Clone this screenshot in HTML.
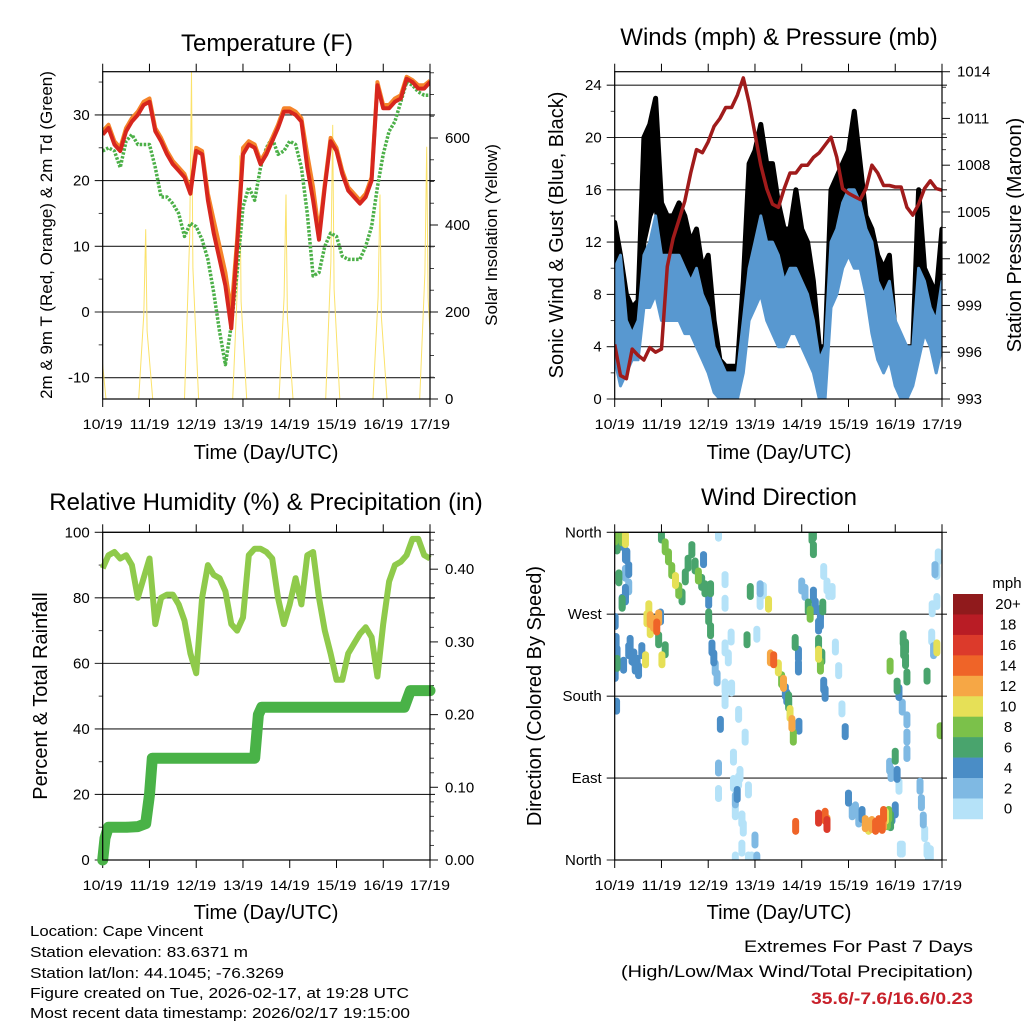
<!DOCTYPE html>
<html><head><meta charset="utf-8"><style>
html,body{margin:0;padding:0;background:#fff;}
svg{display:block;font-family:"Liberation Sans",sans-serif;}
</style></head><body>
<svg id="chart" width="1024" height="1024" viewBox="0 0 1024 1024" xmlns="http://www.w3.org/2000/svg">
<rect x="0" y="0" width="1024" height="1024" fill="#fff"/>
<text x="267" y="51" font-size="24" text-anchor="middle">Temperature (F)</text>
<text x="779" y="45" font-size="24" text-anchor="middle">Winds (mph) &amp; Pressure (mb)</text>
<text x="266" y="510" font-size="24" text-anchor="middle">Relative Humidity (%) &amp; Precipitation (in)</text>
<text x="779" y="505" font-size="24" text-anchor="middle">Wind Direction</text>
<text x="266" y="459" font-size="20" text-anchor="middle">Time (Day/UTC)</text>
<text x="779" y="459" font-size="20" text-anchor="middle">Time (Day/UTC)</text>
<text x="266" y="919" font-size="20" text-anchor="middle">Time (Day/UTC)</text>
<text x="779" y="919" font-size="20" text-anchor="middle">Time (Day/UTC)</text>
<text transform="translate(52,235) rotate(-90)" font-size="17" text-anchor="middle">2m &amp; 9m T (Red, Orange) &amp; 2m Td (Green)</text>
<text transform="translate(497,235) rotate(-90)" font-size="17" text-anchor="middle">Solar Insolation (Yellow)</text>
<text transform="translate(563,235) rotate(-90)" font-size="20" text-anchor="middle">Sonic Wind &amp; Gust (Blue, Black)</text>
<text transform="translate(1021,235) rotate(-90)" font-size="20" text-anchor="middle">Station Pressure (Maroon)</text>
<text transform="translate(47,696) rotate(-90)" font-size="20" text-anchor="middle">Percent &amp; Total Rainfall</text>
<text transform="translate(541,696) rotate(-90)" font-size="20" text-anchor="middle">Direction (Colored By Speed)</text>
<g font-size="15">
<text x="30" y="936" textLength="173" lengthAdjust="spacingAndGlyphs">Location: Cape Vincent</text>
<text x="30" y="957" textLength="218" lengthAdjust="spacingAndGlyphs">Station elevation: 83.6371 m</text>
<text x="30" y="978" textLength="254" lengthAdjust="spacingAndGlyphs">Station lat/lon: 44.1045; -76.3269</text>
<text x="30" y="998" textLength="379" lengthAdjust="spacingAndGlyphs">Figure created on Tue, 2026-02-17, at 19:28 UTC</text>
<text x="30" y="1018" textLength="380" lengthAdjust="spacingAndGlyphs">Most recent data timestamp: 2026/02/17 19:15:00</text>
</g>
<text x="973" y="952" font-size="17" text-anchor="end" textLength="229" lengthAdjust="spacingAndGlyphs">Extremes For Past 7 Days</text>
<text x="973" y="977" font-size="17" text-anchor="end" textLength="352" lengthAdjust="spacingAndGlyphs">(High/Low/Max Wind/Total Precipitation)</text>
<text x="973" y="1004" font-size="17" font-weight="bold" fill="#c8202a" text-anchor="end" textLength="162" lengthAdjust="spacingAndGlyphs">35.6/-7.6/16.6/0.23</text>
</svg>
<script>
// ---------- data ----------
const times=[0,0.125,0.25,0.375,0.5,0.625,0.75,0.875,1,1.125,1.25,1.375,1.5,1.625,1.75,1.875,2,2.125,2.25,2.375,2.5,2.625,2.75,2.875,3,3.125,3.25,3.375,3.5,3.625,3.75,3.875,4,4.125,4.25,4.375,4.5,4.625,4.75,4.875,5,5.125,5.25,5.375,5.5,5.625,5.75,5.875,6,6.125,6.25,6.375,6.5,6.625,6.75,6.875,7];
const dayLabels=["10/19","11/19","12/19","13/19","14/19","15/19","16/19","17/19"];
const tempRed=[27,28,25.5,24.5,27.5,29,30,31.5,32,27.5,26,24,22.5,21.5,20.5,18,24.5,24,17,12,8,4,-2.5,10,24,25.5,25,22.5,24,26,28,30.5,30.5,30,29,22,17,11,19,26,24.5,21,18.5,17.5,16.5,17.5,20,34.5,31,31,32,32.5,35.5,35,34,34,35];
const tempOrange=[27.5,28.5,26,25,28,29.5,30.5,32,32.5,28,26.5,24.5,23,22,21,18.5,25,24.5,18,14,10,6,0,11,25,26,25.5,23,24.5,26.5,28.5,31,31,30.5,29.5,24,19,12,19.5,26.5,25,21.5,19,18,17,18,20.5,35,31.5,31.5,32.5,33,35.8,35.3,34.5,34.5,35.2];
const tempDew=[24.5,25,24.5,22,26,27,25.5,25.5,25.5,22,17.5,17.5,16.5,15,11.5,13.5,13,11,8,3,-3,-8,-2,6,16,19,17,22,25,26.5,24,24.5,26,25.5,22,15,5.5,6,10,12,11.5,8.5,8,8,8,10,13,19,24,27.5,29,32,35,34.5,33.5,33,33];
const solarPeakDay=[-0.08,0.92,1.9,2.93,3.92,4.92,5.93,6.93];
const solarPeakVal=[330,390,752,560,470,630,470,580];
const windLo=[3,1,2,3,3,7,7,8,6,6,6,6,5,5,4,3,2,0.5,0,0,0,0,2,6,7,8,6,5,4,4,5,5,4,3,2,0,0,7,8,10,11,10,10,8,5,3,2,3,1,0,0,1,3,5,4,2,4];
const windHi=[10,11,6,5,6,11,12,14,11,11,11,11,10,9,10,8,7,4,3,2,2,2,6,10,12,14,12,12,11,9,10,10,9,8,6,3,4,12,13,15,16,16,15,13,12,9,8,9,6,5,4,4,10,9,7,6,9];
const gustLo=[8,6,4,4,5,12,14,15,11,10,9,9,9,8,7,5,5,2,1.5,1.5,1.5,1.5,3,10,12,14,12,11,9,8,8,9,9,7,4,2,2,11,12,14,15,15,14,11,8,6,4,5,3,3,3,3,10,6,5,5,7];
const gustHi=[13.5,11,8,7,7.5,20,21,23,15,14,14,15,14,12,13,10,11,6,3,2.5,2.5,2.5,9,18,19,21,18,18,15,13,13,16,13,12,9,4,4,16,17,18,19,22,18,14,13,11,10,11,5,4,4,4,16,10,9,8,13];
const pressure=[996.5,994.5,994.3,996.2,995.8,995.5,996.3,996,996.2,1001.5,1003.3,1004.5,1005.7,1007.5,1009,1008.8,1009.5,1010.5,1011,1011.7,1011.7,1012.5,1013.6,1012,1010,1008,1006.5,1005.5,1005.3,1006.5,1007.5,1007.5,1008,1008,1008.5,1008.8,1009.3,1009.8,1008.5,1006.5,1006.2,1006,1005.8,1006.5,1008,1007.5,1006.7,1006.7,1006.6,1006.6,1005.3,1004.8,1005.5,1006.5,1007,1006.5,1006.4];
const rh=[89,93,94,92,93,90,80,86,92,72,80,81,81,78,73,63,57,80,90,87,86,82,72,70,74,93,95,95,94,92,80,72,78,86,78,93,94,80,70,63,55,55,63,66,69,71,68,56,72,85,90,91,93,98,98,93,92];
const precipDay=[0,0.05,0.12,0.5,0.75,0.92,1.0,1.06,3.25,3.33,3.4,6.45,6.58,7];
const precipVal=[0,0.03,0.045,0.045,0.046,0.05,0.09,0.14,0.14,0.2,0.21,0.21,0.233,0.233];
const dirDay=[0.01,0.08,0.16,0.23,0.05,0.26,0.3,0.3,0.23,0.3,0.37,0.44,0.51,0.58,0.41,0.48,0.33,0.4,0.44,0.66,0.69,0.76,0.83,0.9,0.94,0.76,0.73,1.0,1.08,1.15,1.22,1.3,1.37,1.44,1.51,1.57,1.65,1.72,1.79,1.86,1.93,2.01,2.05,1.9,2.01,2.05,2.08,2.12,2.15,2.19,2.22,2.36,2.36,2.49,2.36,2.43,2.5,2.36,2.65,2.79,2.36,2.54,2.65,2.22,2.26,2.54,2.58,2.62,2.68,2.58,2.72,2.86,2.22,2.72,2.75,2.72,2.58,2.86,2.93,3.0,3.04,3.11,3.18,3.11,3.04,2.83,2.9,3.29,3.33,3.4,3.5,3.57,3.61,3.65,3.68,3.72,3.72,3.75,3.79,3.82,3.86,3.93,3.93,3.94,4.0,4.07,4.14,4.18,4.22,4.25,4.25,4.25,4.29,4.36,4.36,4.4,4.43,4.45,4.4,4.36,4.4,4.47,4.5,4.47,4.54,4.58,4.65,4.72,4.79,4.86,4.93,5.0,5.08,5.15,5.22,5.29,5.36,5.43,5.5,5.58,5.65,5.72,5.75,4.5,4.54,4.54,4.36,3.87,5.75,5.79,5.83,5.86,5.9,5.9,5.93,6.0,6.0,6.04,6.08,6.11,6.15,6.18,6.22,6.25,6.22,6.17,5.89,6.04,6.08,6.15,6.25,6.25,6.25,5.88,5.91,6.53,6.56,6.6,6.63,6.68,6.71,6.75,6.78,6.79,6.82,6.85,6.89,6.89,6.92,6.96,6.89,6.68,0.05,0.05,0.03,0.01,0.16,0.23,0.23,0.23,0.09,0.12,0.09,0.16,0.19,0.01,0.94,0.98,1.01,1.08,0.04];
const dirDeg=[355,357,354,352,345,334,319,300,335,230,223,215,208,230,223,216,238,222,213,220,265,264,260,256,266,253,276,357,344,333,318,307,296,289,311,326,341,323,312,305,298,285,298,330,267,252,233,222,211,200,359,308,282,245,233,222,189,175,160,135,190,113,87,101,149,84,66,72,94,53,45,77,73,45,35,13,0,0,0,22,0,298,296,284,248,242,295,281,222,220,211,198,194,185,179,176,172,161,150,135,239,212,226,147,301,294,278,270,356,341,359,291,279,238,226,213,223,278,271,257,262,192,183,317,301,295,295,234,208,166,141,68,53,55,45,50,40,37,39,37,40,38,50,48,41,39,46,37,41,48,42,50,45,41,48,55,114,94,81,12,12,230,219,201,234,243,213,191,184,168,154,135,117,103,95,81,63,44,29,11,0,7,245,276,230,319,284,317,333,142,233,202,216,227,240,262,283,294,289,315,310,349,360,282,214,205,242,267,220,231,169,204,111,167,81,92,54,36,25,13,257,26,19,7,5,256];
const dirSpeed=[8,7,9,10,6,4,4,3,4,4,5,5,4,4,5,4,5,4,5,10,10,12,12,14,12,11,10,7,8,9,8,10,9,7,7,6,6,7,8,6,6,5,6,4,6,6,4,4,3,3,0,1,1,1,1,1,1,1,1,1,1,1,1,2,4,1,2,4,1,1,1,1,1,1,1,1,1,1,1,3,2,2,1,1,1,6,7,10,12,15,10,8,12,4,4,6,7,10,12,8,7,5,4,4,2,2,6,8,7,7,6,4,4,7,10,9,6,6,4,4,4,4,4,1,1,1,1,1,1,1,4,4,2,2,2,4,12,10,12,14,14,14,14,14,12,17,16,14,12,10,8,8,7,6,5,4,6,4,1,1,1,6,6,6,7,7,8,6,4,3,2,2,2,2,2,2,2,2,1,1,1,1,1,1,2,2,1,0,1,8,10,6,6,4,4,4,4,4,4,3,6,4,6,6,4,4,6,4,10,6,4,4,4,1,6,8,6,4,12,10,6,6,2];
const speedBins=["0","2","4","6","8","10","12","14","16","18","20+"];
const speedColors=["#b5e2f8","#7fb9e3","#4a8dc6","#49a46d","#7bc14a","#e6e057","#f6a745","#ef6428","#dc3a2b","#b91c25","#901a1c"];

// ---------- helpers ----------
const NS='http://www.w3.org/2000/svg';
const svg=document.getElementById('chart');
function mk(tag,attrs,parent){const e=document.createElementNS(NS,tag);for(const k in attrs)e.setAttribute(k,attrs[k]);(parent||svg).appendChild(e);return e;}
function xs(p){return d=>p.x0+d/7*(p.x1-p.x0);}
function ysc(lo,hi,yb,yt){return v=>yb-(v-lo)/(hi-lo)*(yb-yt);}
function pts(xa,ya,fx,fy){return xa.map((d,i)=>fx(d).toFixed(1)+','+fy(ya[i]).toFixed(1)).join(' ');}

function frame(p,name){
  const g=mk('g',{});
  
  
  const X=xs(p);
  for(let i=0;i<=7;i++){
    const x=X(i);
    const t1=mk('line',{x1:x,y1:p.yt-8,x2:x,y2:p.yt,stroke:'#000','stroke-width':1},g);
    
    
    const t2=mk('line',{x1:x,y1:p.yb,x2:x,y2:p.yb+8,stroke:'#000','stroke-width':1},g);
    
    
    const lb=mk('text',{x:x,y:p.yb+30,'font-size':14,'text-anchor':'middle',textLength:40,lengthAdjust:'spacingAndGlyphs'},g);
    lb.textContent=dayLabels[i];
    
    
  }
  return g;
}
function box(p,name){
  const r=mk('rect',{x:p.x0,y:p.yt,width:p.x1-p.x0,height:p.yb-p.yt,fill:'none',stroke:'#000','stroke-width':1.2});
  
  
}
function leftAxis(p,vals,labels,Y,minor,grid,name,fs){
  for(const m of minor){const y=Y(m);const l=mk('line',{x1:p.x0-4,y1:y,x2:p.x0,y2:y,stroke:'#444','stroke-width':1});
    
    }
  vals.forEach((v,i)=>{const y=Y(v);
    const l=mk('line',{x1:p.x0-8,y1:y,x2:grid?p.x1+5:p.x0,y2:y,stroke:'#222','stroke-width':1.1});
    
    
    const t=mk('text',{x:p.x0-13,y:y+5,'font-size':fs||15,'text-anchor':'end'});
    t.textContent=labels[i];
    
    });
}
function rightAxis(p,vals,labels,Y,minor,name){
  for(const m of minor){const y=Y(m);const l=mk('line',{x1:p.x1,y1:y,x2:p.x1+4,y2:y,stroke:'#444','stroke-width':1});
    
    }
  vals.forEach((v,i)=>{const y=Y(v);
    const l=mk('line',{x1:p.x1,y1:y,x2:p.x1+8,y2:y,stroke:'#222','stroke-width':1.1});
    
    
    const t=mk('text',{x:p.x1+15,y:y+5,'font-size':15,'text-anchor':'start'});
    t.textContent=labels[i];
    
    });
}
function clip(p,id){const d=mk('clipPath',{id:id});mk('rect',{x:p.x0,y:p.yt,width:p.x1-p.x0,height:p.yb-p.yt},d);}

// ---------- panel 1: temperature ----------
(function(){
  const p={x0:102.7,x1:430,yt:71.7,yb:399};
  clip(p,'c1');
  const X=xs(p),Y=ysc(0,10,312,246.3),S=ysc(0,200,399,312);
  frame(p,'temp');
  leftAxis(p,[30,20,10,0,-10],['30','20','10','0','-10'],Y,[35,25,15,5,-5],true,'temp');
  rightAxis(p,[0,200,400,600],['0','200','400','600'],S,[50,100,150,250,300,350,450,500,550,650,700,750],'solar');
  const g=mk('g',{'clip-path':'url(#c1)'});
  
  
  solarPeakDay.forEach((d,i)=>{
    const pl=mk('polyline',{points:pts([d-0.15,d-0.04,d,d+0.03,d+0.15],[0,solarPeakVal[i]*0.5,solarPeakVal[i],solarPeakVal[i]*0.4,0],X,S),fill:'none',stroke:'#fbe26a','stroke-width':1},g);
    
    
  });
  const dw=mk('polyline',{points:pts(times,tempDew,X,Y),fill:'none',stroke:'#4cb048','stroke-width':3.5,'stroke-dasharray':'2.5,1.5','stroke-linejoin':'round'},g);
  
  
  const ol=mk('polyline',{points:pts(times,tempOrange,X,Y),fill:'none',stroke:'#f5842a','stroke-width':4,'stroke-linejoin':'round'},g);
  
  
  const rl=mk('polyline',{points:pts(times,tempRed,X,Y),fill:'none',stroke:'#d7261e','stroke-width':4,'stroke-linejoin':'round'},g);
  
  
  box(p,'temp');
})();

// ---------- panel 2: winds ----------
(function(){
  const p={x0:614.7,x1:942,yt:71.7,yb:399};
  clip(p,'c2');
  const X=xs(p),Y=ysc(0,4,399,346.7),P=ysc(993,1014,399,71.7);
  frame(p,'wind');
  leftAxis(p,[24,20,16,12,8,4,0],['24','20','16','12','8','4','0'],Y,[2,6,10,14,18,22],true,'wind');
  const pm=[];for(let v=994;v<1014;v++){if((v-993)%3)pm.push(v);}
  rightAxis(p,[993,996,999,1002,1005,1008,1011,1014],['993','996','999','1002','1005','1008','1011','1014'],P,pm,'pressure');
  const g=mk('g',{'clip-path':'url(#c2)'});
  
  
  const rev=times.slice().reverse();
  const gb=mk('polygon',{points:pts(times,gustHi,X,Y)+' '+pts(rev,gustLo.slice().reverse(),X,Y),fill:'#000',stroke:'#000','stroke-width':5,'stroke-linejoin':'round'},g);
  
  
  const wb=mk('polygon',{points:pts(times,windHi,X,Y)+' '+pts(rev,windLo.slice().reverse(),X,Y),fill:'#5898d0',stroke:'#5898d0','stroke-width':3,'stroke-linejoin':'round'},g);
  
  
  const pl=mk('polyline',{points:pts(times,pressure,X,P),fill:'none',stroke:'#a01b1b','stroke-width':3.5,'stroke-linejoin':'round'},g);
  
  
  box(p,'wind');
})();

// ---------- panel 3: RH ----------
(function(){
  const p={x0:102.7,x1:430,yt:532.3,yb:860};
  clip(p,'c3');
  const X=xs(p),Y=ysc(0,100,860,532.3),R=ysc(0,0.1,860,787.3);
  frame(p,'rh');
  leftAxis(p,[100,80,60,40,20,0],['100','80','60','40','20','0'],Y,[10,30,50,70,90],true,'rh');
  const rm=[];for(let i=1;i<=45;i++){if(i%10&&i%2==0)rm.push(i/100);}
  rightAxis(p,[0,0.1,0.2,0.3,0.4],['0.00','0.10','0.20','0.30','0.40'],R,rm,'precip');
  const g=mk('g',{});
  
  
  const rl=mk('polyline',{points:pts(times,rh,X,Y),fill:'none',stroke:'#8fca4b','stroke-width':6,'stroke-linejoin':'round'},g);
  
  
  const pr=mk('polyline',{points:pts(precipDay,precipVal,X,R),fill:'none',stroke:'#49b247','stroke-width':11,'stroke-linejoin':'round','stroke-linecap':'round'},g);
  
  
  box(p,'rh');
})();

// ---------- panel 4: wind direction ----------
(function(){
  const p={x0:614.7,x1:942,yt:532.3,yb:860};
  clip(p,'c4');
  const X=xs(p),Y=ysc(0,360,860,532.3);
  frame(p,'dir');
  leftAxis(p,[360,270,180,90,0],['North','West','South','East','North'],Y,[],true,'dir',15);
  const g=mk('g',{'clip-path':'url(#c4)'});
  
  
  const order=dirSpeed.map((s,i)=>i).sort((a,b)=>dirSpeed[a]-dirSpeed[b]);
  for(const i of order){
    const bi=Math.min(10,Math.floor(dirSpeed[i]/2));
    const cx=X(dirDay[i]),cy=Y(dirDeg[i]);
    const c=mk('line',{x1:cx,y1:cy-5,x2:cx,y2:cy+5,stroke:speedColors[bi],'stroke-width':7,'stroke-linecap':'round'},g);
    
    
  }
  box(p,'dir');
  const lg=mk('g',{});
  
  
  const t=mk('text',{x:1007,y:588,'font-size':15,'text-anchor':'middle'},lg);
  t.textContent='mph';
  
  
  const top=594,h=20.45;
  for(let k=0;k<11;k++){
    const idx=10-k,y=top+k*h;
    const r=mk('rect',{x:953,y:y,width:30,height:h+0.3,fill:speedColors[idx]},lg);
    
    
    const tl=mk('text',{x:1008,y:y+h/2+5,'font-size':15,'text-anchor':'middle'},lg);
    tl.textContent=speedBins[idx];
    
    
  }
})();
</script>
</body></html>
